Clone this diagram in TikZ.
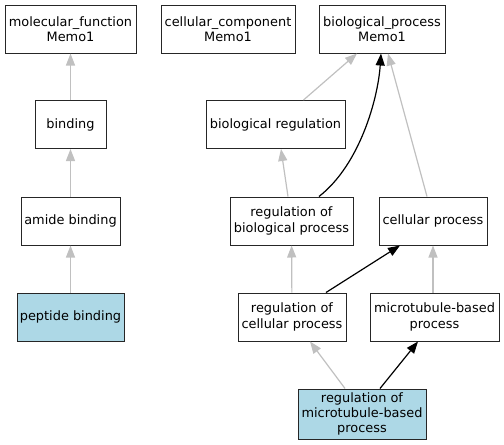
\documentclass[tikz,border=0pt]{standalone}
\usepackage{fontspec}
\setsansfont{DejaVu Sans}
\usetikzlibrary{arrows.meta,positioning}
\definecolor{gblue}{HTML}{ADD8E6}
\definecolor{ggray}{HTML}{C0C0C0}
\tikzset{
  >={Triangle[length=12pt,width=9pt]},
  gterm/.style={rectangle, draw=black!85, fill=white, line width=1pt,
                align=center, minimum height=48pt, inner sep=1pt,
                font=\sffamily\fontsize{12.9}{15.3}\selectfont},
  gquery/.style={gterm, fill=gblue},
  gisa/.style={->, ggray, line width=1.2pt},
  gpartof/.style={->, black, line width=1.2pt},
}

\begin{document}
\begin{tikzpicture}[x=1pt,y=-1pt]
  \useasboundingbox (0,0) rectangle (504,445);

  % roots
  \node[gterm, minimum width=131pt] (molfun)   at (70.5,29) {molecular\_function\\Memo1};
  \node[gterm, minimum width=134pt] (cellcomp) at (228,29)  {cellular\_component\\Memo1};
  \node[gterm, minimum width=126pt] (bioproc)  at (382,29)  {biological\_process\\Memo1};

  \node[gterm, minimum width=71pt]  (binding)  at (70.5,124.5) {binding};
  \node[gterm, minimum width=139pt] (bioreg)   at (275.5,124.5) {biological regulation};

  \node[gterm, minimum width=99pt]  (amide)    at (70.5,221) {amide binding};
  \node[gterm, minimum width=123pt] (regbio)   at (291.5,221) {regulation of\\biological process};
  \node[gterm, minimum width=108pt] (cellproc) at (433,221) {cellular process};

  \node[gquery, minimum width=107pt] (peptide) at (70.5,317) {peptide binding};
  \node[gterm, minimum width=108pt]  (regcell) at (292,317) {regulation of\\cellular process};
  \node[gterm, minimum width=129pt]  (mtproc)  at (434.5,317) {microtubule-based\\process};

  \node[gquery, minimum width=128pt, minimum height=50pt] (regmt) at (362,414)
    {regulation of\\microtubule-based\\process};

  % is_a
  \draw[gisa] (binding) -- (molfun);
  \draw[gisa] (amide) -- (binding);
  \draw[gisa] (peptide) -- (amide);
  \draw[gisa] ([xshift=28pt]bioreg.north) -- ([xshift=-25pt]bioproc.south);
  \draw[gisa] ([xshift=-3.5pt]regbio.north) -- ([xshift=5.5pt]bioreg.south);
  \draw[gisa] ([xshift=-6pt]cellproc.north) -- ([xshift=6pt]bioproc.south);
  \draw[gisa] (regcell) -- (regbio);
  \draw[gisa] ([xshift=-1.5pt]mtproc.north) -- (cellproc.south);
  \draw[gisa] ([xshift=-17pt]regmt.north) -- ([xshift=18pt]regcell.south);

  % regulates
  \draw[gpartof] ([xshift=27.5pt]regbio.north)
    .. controls +(41,-32) and +(-3,45) .. ([xshift=-1pt]bioproc.south);
  \draw[gpartof] ([xshift=34pt]regcell.north) -- ([xshift=-33pt]cellproc.south);
  \draw[gpartof] ([xshift=18pt]regmt.north) -- ([xshift=-16.5pt]mtproc.south);

\end{tikzpicture}
\end{document}
